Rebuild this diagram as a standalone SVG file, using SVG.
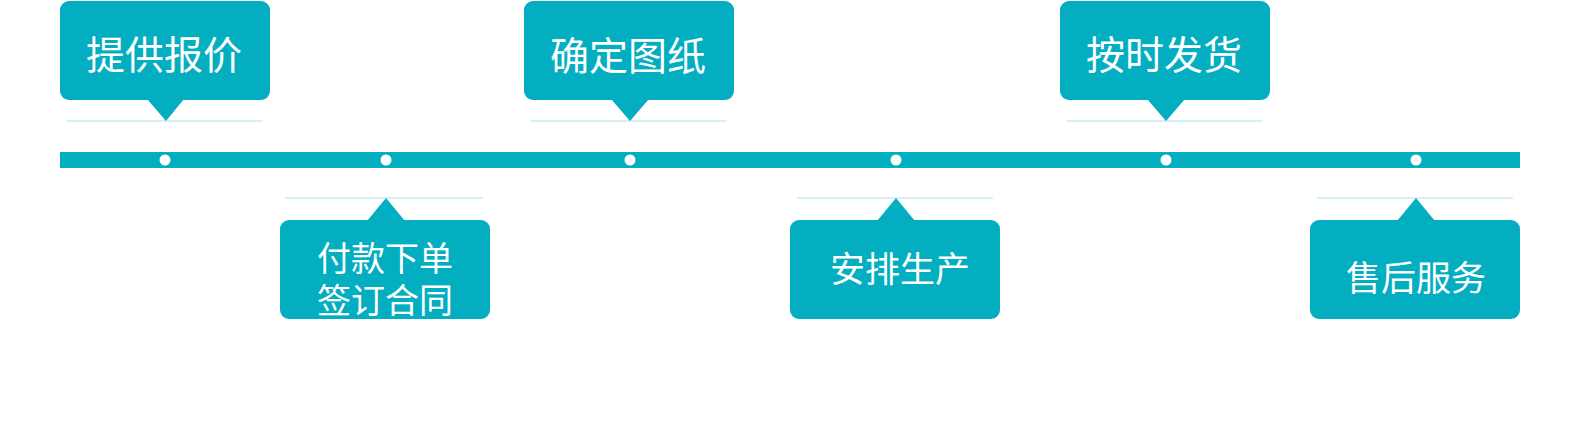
<svg xmlns="http://www.w3.org/2000/svg" width="1580" height="442" viewBox="0 0 1580 442">
<style>
.box{fill:#03aec1}
.tail{fill:#03aec1}
.guide{stroke:#c8edf1;stroke-width:1.5}
.dot{fill:#ffffff}
.t{fill:#ffffff;font-family:"Noto Sans CJK SC","Noto Sans",sans-serif;font-size:39px;text-anchor:middle;dominant-baseline:central}
.t2{font-size:35px}
.t3{font-size:34px}
</style>
<rect width="1580" height="442" fill="#ffffff"/>
<g id="timeline">
<rect x="60" y="152" width="1460" height="16" fill="#03aec1"/>
<circle class="dot" cx="165" cy="160" r="5.5"/>
<circle class="dot" cx="386" cy="160" r="5.5"/>
<circle class="dot" cx="630" cy="160" r="5.5"/>
<circle class="dot" cx="896" cy="160" r="5.5"/>
<circle class="dot" cx="1166" cy="160" r="5.5"/>
<circle class="dot" cx="1416" cy="160" r="5.5"/>
</g>
<g id="node1">
<line class="guide" x1="67" y1="121" x2="263" y2="121"/>
<rect class="box" x="60" y="1" width="210" height="99" rx="9"/>
<polygon class="tail" points="147,99 184,99 166,121"/>
<text class="t" x="164" y="52">提供报价</text>
</g>
<g id="node2">
<line class="guide" x1="285" y1="198" x2="483" y2="198"/>
<rect class="box" x="280" y="220" width="210" height="99" rx="9"/>
<polygon class="tail" points="367,221 405,221 386,198"/>
<text class="t t3" x="385" y="256"><tspan x="385" y="256">付款下单</tspan><tspan x="385" y="298">签订合同</tspan></text>
</g>
<g id="node3">
<line class="guide" x1="531" y1="121" x2="727" y2="121"/>
<rect class="box" x="524" y="1" width="210" height="99" rx="9"/>
<polygon class="tail" points="611,99 649,99 630,121"/>
<text class="t" x="628" y="53">确定图纸</text>
</g>
<g id="node4">
<line class="guide" x1="797" y1="198" x2="993" y2="198"/>
<rect class="box" x="790" y="220" width="210" height="99" rx="9"/>
<polygon class="tail" points="877,221 915,221 896,198"/>
<text class="t t2" x="900" y="266">安排生产</text>
</g>
<g id="node5">
<line class="guide" x1="1067" y1="121" x2="1263" y2="121"/>
<rect class="box" x="1060" y="1" width="210" height="99" rx="9"/>
<polygon class="tail" points="1147,99 1185,99 1166,121"/>
<text class="t" x="1164" y="52">按时发货</text>
</g>
<g id="node6">
<line class="guide" x1="1317" y1="198" x2="1513" y2="198"/>
<rect class="box" x="1310" y="220" width="210" height="99" rx="9"/>
<polygon class="tail" points="1397,221 1435,221 1416,198"/>
<text class="t t2" x="1416" y="275">售后服务</text>
</g>
</svg>
